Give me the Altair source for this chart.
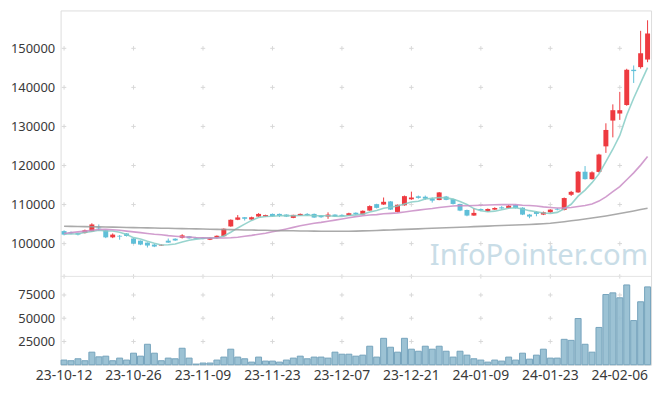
import altair as alt
import pandas as pd

dates = [
    "23-10-12","23-10-13","23-10-16","23-10-17","23-10-18","23-10-19","23-10-20","23-10-23","23-10-24","23-10-25",
    "23-10-26","23-10-27","23-10-30","23-10-31","23-11-01","23-11-02","23-11-03","23-11-06","23-11-07","23-11-08",
    "23-11-09","23-11-10","23-11-13","23-11-14","23-11-15","23-11-16","23-11-17","23-11-20","23-11-21","23-11-22",
    "23-11-23","23-11-24","23-11-27","23-11-28","23-11-29","23-11-30","23-12-01","23-12-04","23-12-05","23-12-06",
    "23-12-07","23-12-08","23-12-11","23-12-12","23-12-13","23-12-14","23-12-15","23-12-18","23-12-19","23-12-20",
    "23-12-21","23-12-22","23-12-26","23-12-27","23-12-28","24-01-02","24-01-03","24-01-04","24-01-05","24-01-08",
    "24-01-09","24-01-10","24-01-11","24-01-12","24-01-15","24-01-16","24-01-17","24-01-18","24-01-19","24-01-22",
    "24-01-23","24-01-24","24-01-25","24-01-26","24-01-29","24-01-30","24-01-31","24-02-01","24-02-02","24-02-05",
    "24-02-06","24-02-07","24-02-08","24-02-13","24-02-14",
]

opens = [
    103200, 102900, 102700, 102700, 103100, 104100, 103400, 101600, 102000, 102600,
    101300, 100750, 100250, 99750, 99500, 100750, 101250, 101500, 101850, 101500,
    101500, 101000, 101450, 101900, 104400, 106100, 106750, 106160, 106920, 106900,
    107600, 107600, 107430, 106580, 107180, 107600, 107600, 107180, 106920, 107430,
    107350, 107180, 107900, 107450, 108450, 110100, 110000, 110800, 108100, 109800,
    111350, 112100, 112000, 111500, 111150, 112050, 111400, 110150, 108600, 107180,
    108850, 108280, 108700, 109300, 109120, 109880, 109200, 107430, 108100, 107430,
    108020, 108900, 108620, 112500, 113100, 118400, 116500, 118350, 124900, 131500,
    133300, 135480, 144510, 145190, 147130,
]
highs = [
    103400, 103100, 102800, 103600, 105200, 104900, 103500, 102600, 102200, 102700,
    101400, 100800, 100300, 99900, 99800, 101300, 101350, 102400, 101950, 101600,
    101600, 101600, 102100, 103900, 106200, 107300, 106800, 106900, 107800, 107400,
    107700, 107700, 107500, 107400, 107700, 107800, 107700, 107300, 108000, 107500,
    107500, 107900, 108000, 108500, 109800, 110200, 111800, 110900, 110000, 112300,
    113300, 112300, 112300, 111800, 113200, 112200, 111500, 110200, 108700, 109100,
    109000, 109000, 109300, 109600, 109900, 110000, 109300, 107600, 108300, 108200,
    108800, 109100, 111800, 113500, 118600, 119850, 118500, 123000, 130800, 135650,
    138850, 144760, 145610, 154480, 157180,
]
lows = [
    102100, 102400, 102100, 102600, 103000, 103300, 101400, 101400, 101000, 101800,
    99900, 99600, 99000, 99100, 99400, 100200, 100700, 101300, 101250, 101150,
    101100, 100900, 101300, 101800, 104300, 106000, 105900, 106000, 106800, 106800,
    106900, 106800, 106800, 106500, 107100, 107100, 106600, 106600, 106330, 106800,
    107000, 107100, 107300, 107400, 108400, 109000, 109900, 108600, 108000, 109700,
    111200, 111500, 111200, 110500, 111100, 111100, 110000, 108300, 107000, 107100,
    108300, 108100, 108600, 108900, 109000, 109000, 107300, 106500, 107000, 107300,
    107900, 108500, 108500, 112200, 113000, 116400, 116400, 118200, 123230, 127200,
    131680, 135300, 141130, 144800, 146450,
]
closes = [
    102300, 102600, 102300, 103400, 104900, 103900, 101600, 102300, 101800, 101950,
    100000, 99750, 99500, 99250, 99700, 100250, 100800, 102100, 101350, 101250,
    101200, 101450, 102000, 103800, 106100, 106700, 106350, 106750, 107600, 107300,
    107000, 107100, 106920, 107350, 107600, 107300, 106670, 106750, 107430, 106920,
    107100, 107770, 107500, 108400, 109600, 109150, 110700, 108700, 109950, 112150,
    111800, 111700, 111500, 111000, 113100, 111200, 110150, 108450, 107180, 107860,
    108500, 108870, 109120, 109000, 109710, 109120, 107430, 106920, 107600, 108020,
    108700, 108700, 111660, 113250, 118400, 116500, 118250, 122800, 129100, 134160,
    134160, 144510, 144170, 148740, 153800,
]
volumes = [
    5000, 4300, 6400, 4300, 13500, 8500, 9200, 4300, 7100, 5000,
    12400, 9200, 22000, 12400, 4300, 7100, 6400, 17700, 7100, 700,
    1800, 1800, 5000, 8200, 16700, 8200, 6400, 2800, 8200, 3900,
    3900, 2800, 5000, 7100, 9200, 6400, 8200, 8200, 7100, 13500,
    11300, 11300, 9200, 10300, 19900, 8200, 28400, 18800, 13500, 28400,
    16700, 14500, 19900, 16700, 19900, 14500, 8200, 14500, 10300, 6400,
    5000, 2800, 5000, 3900, 8200, 5000, 12400, 6000, 10300, 16700,
    7100, 7100, 27300, 26200, 49700, 22000, 13500, 40100, 75500, 77300,
    72000, 85800, 47500, 67700, 83700,
]
ma5_head = [102450, 102450, 102530, 102870]
ma20_head = [102600, 102800, 103000, 103200, 103400, 103600, 103650, 103550, 103400, 103200,
             103000, 102800, 102600, 102400, 102250, 102050, 101900, 101750, 101650]
ma60 = [
    104450, 104420, 104390, 104350, 104320, 104280, 104250, 104210, 104180, 104140,
    104100, 104060, 104030, 103990, 103950, 103910, 103870, 103840, 103800, 103760,
    103720, 103690, 103650, 103610, 103580, 103540, 103500, 103470, 103430, 103400,
    103360, 103330, 103300, 103270, 103240, 103210, 103190, 103170, 103160, 103150,
    103150, 103160, 103200, 103250, 103310, 103370, 103440, 103500, 103570, 103640,
    103710, 103780, 103850, 103920, 103990, 104060, 104130, 104200, 104270, 104340,
    104410, 104480, 104550, 104620, 104690, 104760, 104830, 104900, 104980, 105080,
    105200, 105400, 105610, 105830, 106060, 106300, 106550, 106800, 107080, 107380,
    107700, 108030, 108370, 108710, 109050,
]
label_dates = ["23-10-12", "23-10-26", "23-11-09", "23-11-23", "23-12-07",
               "23-12-21", "24-01-09", "24-01-23", "24-02-06"]
price_ticks = [100000, 110000, 120000, 130000, 140000, 150000]
volume_ticks = [25000, 50000, 75000]
PRICE_MIN, PRICE_MAX = 91600, 159700
VOL_MAX = 95000

UP = "#ee3a40"
DOWN = "#5fbfd8"

cs = pd.Series(closes, dtype=float)
ma5 = cs.rolling(5).mean().tolist()
ma20 = cs.rolling(20).mean().tolist()
ma5[:4] = ma5_head
ma20[:19] = ma20_head

df = pd.DataFrame({"date": dates, "open": opens, "high": highs, "low": lows,
                   "close": closes, "volume": volumes})
df["dir"] = ["up" if c >= o else "down" for o, c in zip(opens, closes)]

ma_df = pd.concat([
    pd.DataFrame({"date": dates, "ma": "MA5", "value": ma5}),
    pd.DataFrame({"date": dates, "ma": "MA20", "value": ma20}),
    pd.DataFrame({"date": dates, "ma": "MA60", "value": ma60}),
])

plus_top = pd.DataFrame([(d, v) for d in label_dates for v in price_ticks + [PRICE_MIN]],
                        columns=["date", "v"])
plus_bot = pd.DataFrame([(d, v) for d in label_dates for v in volume_ticks], columns=["date", "v"])

W = 595
H = 357
SPLIT = 268
xscale = alt.Scale(domain=dates, paddingInner=0, paddingOuter=0)
pscale = alt.Scale(domain=[PRICE_MIN, PRICE_MAX], nice=False, zero=False, range=[SPLIT, 0])
vscale = alt.Scale(domain=[0, VOL_MAX], nice=False, range=[H, SPLIT])
PLUS = "M-1,0L1,0M0,-1L0,1"
LABEL = "#3a3a3a"

x_enc = alt.X("date:O", scale=xscale, axis=alt.Axis(values=label_dates, ticks=False, domain=False,
              labelAngle=0, labelFontSize=14, labelColor=LABEL, labelPadding=4, title=None))
y_price_axis = alt.Axis(values=price_ticks, format="d", ticks=False, grid=False, domain=False,
                        labelPadding=6, labelFontSize=13, labelColor=LABEL, title=None, orient="left")
y_vol_axis = alt.Axis(values=volume_ticks, format="d", ticks=False, grid=False, domain=False,
                      labelPadding=6, labelFontSize=13, labelColor=LABEL, title=None, orient="left")

base = alt.Chart(df)

# ---- price group ----
watermark = alt.Chart(pd.DataFrame({"t": ["InfoPointer.com"]})).mark_text(
    align="right", baseline="alphabetic", fontSize=29.5, font="Noto Sans", color="#c9dde7"
).encode(x=alt.value(592), y=alt.value(257), text="t:N")

plus_t = alt.Chart(plus_top).mark_point(shape=PLUS, size=20, filled=False, strokeWidth=1,
                                         color="#d8d8d8", opacity=1).encode(
    x=x_enc, y=alt.Y("v:Q", scale=pscale, axis=y_price_axis))

dir_color = alt.Color("dir:N", scale=alt.Scale(domain=["up", "down"], range=[UP, DOWN]), legend=None)
wicks = base.mark_rule(strokeWidth=1).encode(
    x=x_enc, y=alt.Y("low:Q", scale=pscale, axis=y_price_axis), y2="high:Q", color=dir_color)
bodies = base.mark_bar(size=5).encode(
    x=x_enc, y=alt.Y("open:Q", scale=pscale, axis=y_price_axis), y2="close:Q", color=dir_color)
candles = alt.layer(wicks, bodies)

lines = alt.Chart(ma_df).mark_line(strokeWidth=1.6, opacity=0.85).encode(
    x=x_enc, y=alt.Y("value:Q", scale=pscale, axis=y_price_axis),
    color=alt.Color("ma:N", scale=alt.Scale(domain=["MA5", "MA20", "MA60"],
                                            range=["#86cdc6", "#c98cc5", "#9b9b9b"]), legend=None),
    detail="ma:N")

price_group = alt.layer(plus_t, candles, lines).resolve_scale(color="independent")

# ---- volume group ----
plus_b = alt.Chart(plus_bot).mark_point(shape=PLUS, size=20, filled=False, strokeWidth=1,
                                         color="#d8d8d8", opacity=1).encode(
    x=x_enc, y=alt.Y("v:Q", scale=vscale, axis=y_vol_axis))
vbars = base.mark_bar(size=6, color="#97bfd2", stroke="#6f9fb9", strokeWidth=1, opacity=0.95).encode(
    x=x_enc, y=alt.Y("volume:Q", scale=vscale, axis=y_vol_axis))
volume_group = alt.layer(plus_b, vbars)

divider = alt.Chart(pd.DataFrame({"a": [0]})).mark_rule(color="#e4e4e4", strokeWidth=1).encode(
    x=alt.value(0), x2=alt.value(W), y=alt.value(SPLIT))

chart = alt.layer(watermark, price_group, volume_group, divider).resolve_scale(
    y="independent", color="independent"
).properties(
    width=W, height=H,
    padding={"left": 2, "top": 1, "right": 5, "bottom": 5}
).configure_view(stroke="#e4e4e4").configure(font="Noto Sans").configure_axis(labelFont="Noto Sans")

chart.save("out.html", embed_options={"renderer": "svg", "actions": False})
